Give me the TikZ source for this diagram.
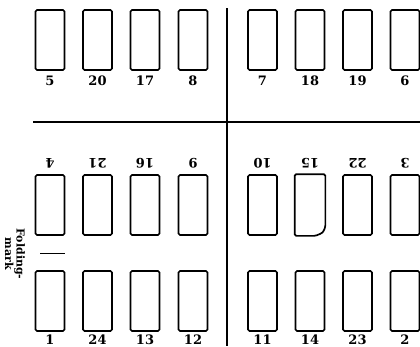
\documentclass[tikz,border=0pt]{standalone}
\usepackage{fontspec}
\setmainfont{DejaVu Serif}
\usetikzlibrary{positioning}

\begin{document}
\begin{tikzpicture}[x=1pt, y=-1pt,
  pagebox/.style={draw=black, rounded corners=1.5pt, inner sep=0pt,
                  minimum width=29pt, minimum height=60pt, line width=1.7pt},
  pagenum/.style={font=\fontsize{13}{13}\selectfont\bfseries, inner sep=0pt,
                  text height=9.5pt, text depth=0pt},
  turned/.style={pagenum, rotate=180},
  cutline/.style={line width=2.4pt},
  foldmark/.style={line width=0.9pt},
  foldlbl/.style={font=\fontsize{11}{11.5}\selectfont\bfseries, align=center,
                  inner sep=0pt, rotate=-90}
]
  \useasboundingbox[fill=white] (0,0) rectangle (420,346);

  % --- cutting lines of the sheet ---
  \draw[cutline] (227,8) -- (227,346);
  \draw[cutline] (33,122) -- (420,122);

  % --- top row ---
  \node[pagebox] (t1) at (50,40)    {}; \node[pagenum, below=4.5pt of t1] (p5)  {5};
  \node[pagebox] (t2) at (97.5,40)  {}; \node[pagenum, below=4.5pt of t2] (p20) {20};
  \node[pagebox] (t3) at (145,40)   {}; \node[pagenum, below=4.5pt of t3] (p17) {17};
  \node[pagebox] (t4) at (193,40)   {}; \node[pagenum, below=4.5pt of t4] (p8)  {8};
  \node[pagebox] (t5) at (262.5,40) {}; \node[pagenum, below=4.5pt of t5] (p7)  {7};
  \node[pagebox] (t6) at (310,40)   {}; \node[pagenum, below=4.5pt of t6] (p18) {18};
  \node[pagebox] (t7) at (357.5,40) {}; \node[pagenum, below=4.5pt of t7] (p19) {19};
  \node[pagebox] (t8) at (405,40)   {}; \node[pagenum, below=4.5pt of t8] (p6)  {6};

  % --- middle row, numbers upside down ---
  \node[pagebox] (m1) at (50,205)    {}; \node[turned] (p4)  at ([yshift=10.5pt]m1.north) {4};
  \node[pagebox] (m2) at (97.5,205)  {}; \node[turned] (p21) at ([yshift=10.5pt]m2.north) {21};
  \node[pagebox] (m3) at (145,205)   {}; \node[turned] (p16) at ([yshift=10.5pt]m3.north) {16};
  \node[pagebox] (m4) at (193,205)   {}; \node[turned] (p9)  at ([yshift=10.5pt]m4.north) {9};
  \node[pagebox] (m5) at (262.5,205) {}; \node[turned] (p10) at ([yshift=10.5pt]m5.north) {10};
  \node[pagebox, draw=none] (m6) at (310,205) {};
  \node[turned] (p15) at ([yshift=10.5pt]m6.north) {15};
  \node[pagebox] (m7) at (357.5,205) {}; \node[turned] (p22) at ([yshift=10.5pt]m7.north) {22};
  \node[pagebox] (m8) at (405,205)   {}; \node[turned] (p3)  at ([yshift=10.5pt]m8.north) {3};
  % page 15 has its corner cut
  \draw[line width=1.7pt, rounded corners=1.5pt]
    (m6.south west) -- (m6.north west) -- (m6.north east) -- ([yshift=9pt]m6.south east)
    .. controls ([xshift=-2.5pt,yshift=3pt]m6.south east) .. ([xshift=-10pt]m6.south east) -- cycle;

  % --- bottom row ---
  \node[pagebox] (b1) at (50,301)    {}; \node[pagenum, below=2.5pt of b1] (p1)  {1};
  \node[pagebox] (b2) at (97.5,301)  {}; \node[pagenum, below=2.5pt of b2] (p24) {24};
  \node[pagebox] (b3) at (145,301)   {}; \node[pagenum, below=2.5pt of b3] (p13) {13};
  \node[pagebox] (b4) at (193,301)   {}; \node[pagenum, below=2.5pt of b4] (p12) {12};
  \node[pagebox] (b5) at (262.5,301) {}; \node[pagenum, below=2.5pt of b5] (p11) {11};
  \node[pagebox] (b6) at (310,301)   {}; \node[pagenum, below=2.5pt of b6] (p14) {14};
  \node[pagebox] (b7) at (357.5,301) {}; \node[pagenum, below=2.5pt of b7] (p23) {23};
  \node[pagebox] (b8) at (405,301)   {}; \node[pagenum, below=2.5pt of b8] (p2)  {2};

  % --- folding mark ---
  \node[foldlbl] (fold) at (15,254) {Folding-\\mark};
  \draw[foldmark] (40,253) -- (65,253);

\end{tikzpicture}
\end{document}
